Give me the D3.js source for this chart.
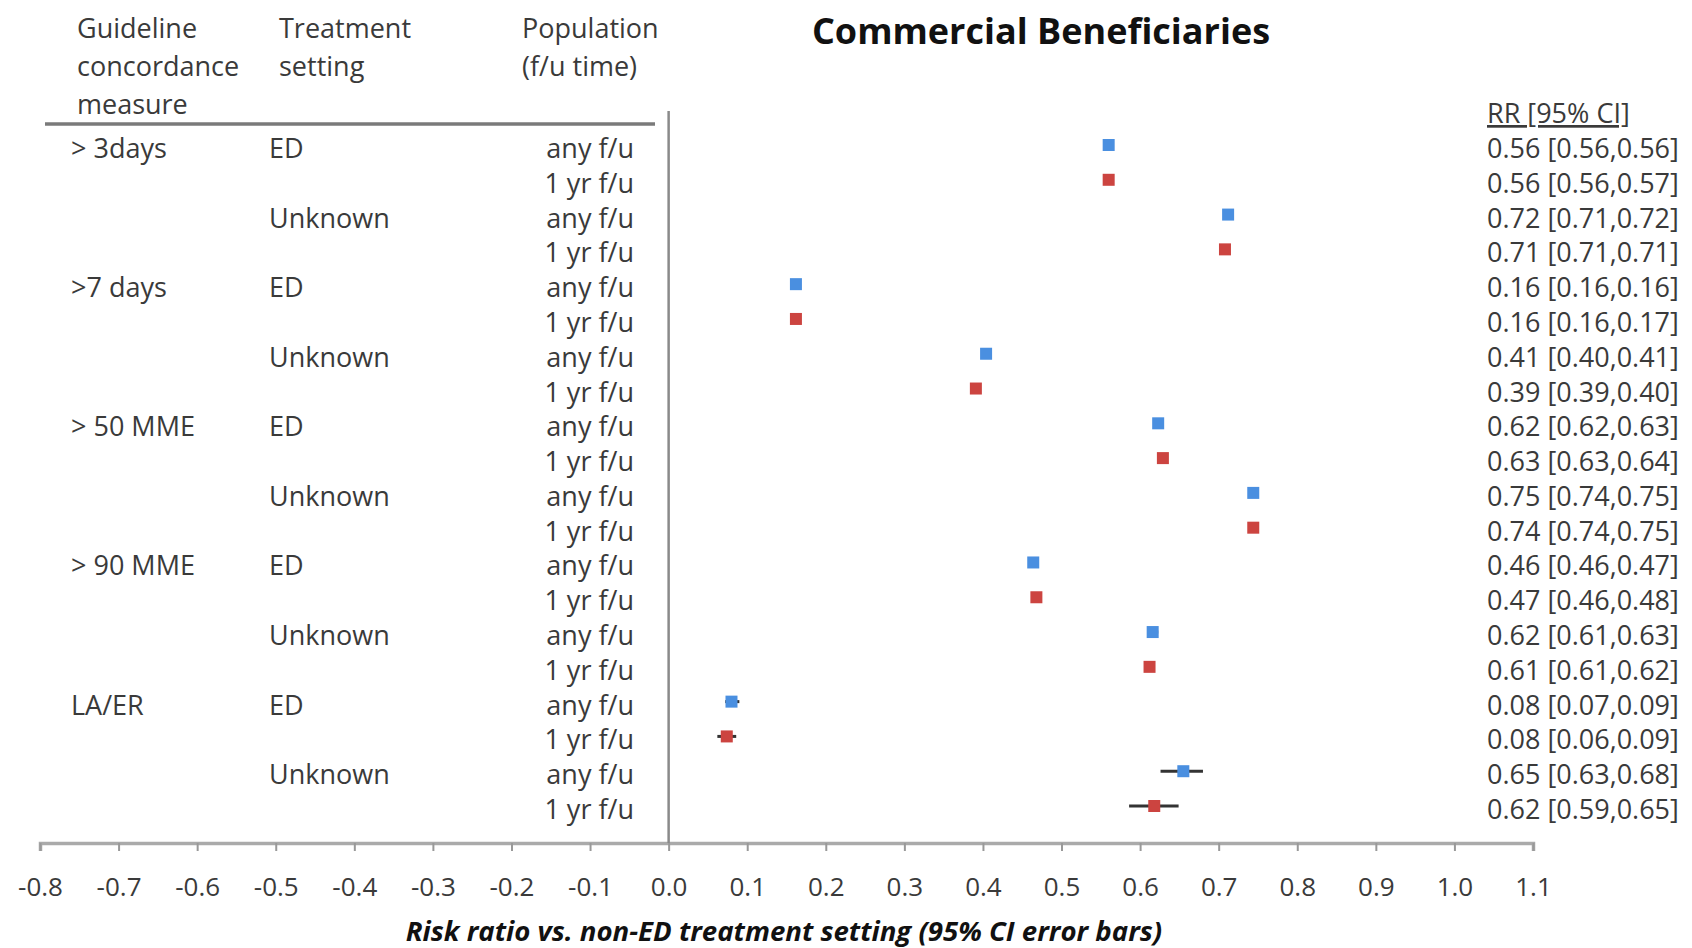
<!DOCTYPE html>
<html><head><meta charset="utf-8">
<script src="https://cdn.jsdelivr.net/npm/d3@7"></script>
<style>body{margin:0;background:#fff;} svg{display:block;} text{font-family:"Open Sans", Lato, sans-serif;}</style>
</head><body>
<svg id="c" width="1692" height="948"></svg>
<script>
const measures = ["> 3days", ">7 days", "> 50 MME", "> 90 MME", "LA/ER"];
const settings = ["ED", "Unknown"];
const populations = ["any f/u", "1 yr f/u"];
// plotted point estimates and CI bounds
const rr = [0.560,0.560,0.712,0.708,0.162,0.162,0.404,0.391,0.623,0.629,0.744,0.744,0.464,0.468,0.616,0.612,0.080,0.074,0.655,0.618];
const lo = [0.558,0.557,0.708,0.705,0.160,0.159,0.400,0.388,0.619,0.625,0.740,0.740,0.460,0.462,0.610,0.607,0.072,0.062,0.626,0.586];
const hi = [0.563,0.566,0.716,0.711,0.164,0.166,0.408,0.396,0.627,0.635,0.748,0.749,0.468,0.475,0.623,0.618,0.090,0.086,0.680,0.649];
// printed labels
const rrLabels = ["0.56 [0.56,0.56]","0.56 [0.56,0.57]","0.72 [0.71,0.72]","0.71 [0.71,0.71]","0.16 [0.16,0.16]",
  "0.16 [0.16,0.17]","0.41 [0.40,0.41]","0.39 [0.39,0.40]","0.62 [0.62,0.63]","0.63 [0.63,0.64]",
  "0.75 [0.74,0.75]","0.74 [0.74,0.75]","0.46 [0.46,0.47]","0.47 [0.46,0.48]","0.62 [0.61,0.63]",
  "0.61 [0.61,0.62]","0.08 [0.07,0.09]","0.08 [0.06,0.09]","0.65 [0.63,0.68]","0.62 [0.59,0.65]"];
const xTicks = [-0.8,-0.7,-0.6,-0.5,-0.4,-0.3,-0.2,-0.1,0.0,0.1,0.2,0.3,0.4,0.5,0.6,0.7,0.8,0.9,1.0,1.1];
const headers = [["Guideline","concordance","measure"],["Treatment","setting"],["Population","(f/u time)"]];
const colors = ["#4a8fe0","#cc4440"];

const svg = d3.select("#c");
const x = d3.scaleLinear().domain([-0.8,1.1]).range([40,1533]);
const rows = d3.range(rr.length);
const y = d3.scalePoint().domain(rows).range([145,806]);
const txt = "#3a3a3a";
const fs = 27;

// title
svg.append("text").attr("x",1041).attr("y",44).attr("text-anchor","middle")
  .attr("font-size",36).attr("font-weight","bold").attr("fill","#111").text("Commercial Beneficiaries");

// headers
const hx = [77, 279, 522];
headers.forEach((h,i)=>{
  h.forEach((t,j)=>{
    svg.append("text").attr("x",hx[i]).attr("y",38+j*38).attr("font-size",fs).attr("fill",txt).text(t);
  });
});
svg.append("line").attr("x1",45).attr("x2",655).attr("y1",124).attr("y2",124)
  .attr("stroke","#7a7a7a").attr("stroke-width",3.5);

// axis
const fmt = d => d3.format(".1f")(d).replace("\u2212","-");
const axis = d3.axisBottom(x).tickValues(xTicks).tickFormat(fmt).tickSize(8).tickPadding(27);
const ag = svg.append("g").attr("transform","translate(0,843)").call(axis);
ag.select(".domain").attr("stroke","#aaa").attr("stroke-width",3.5);
ag.selectAll(".tick line").attr("stroke","#999").attr("stroke-width",2);
ag.selectAll(".tick text").attr("font-size",26).attr("fill",txt).style("font-family","'Open Sans', sans-serif");

// zero line
svg.append("line").attr("x1",x(0)).attr("x2",x(0)).attr("y1",111).attr("y2",843)
  .attr("stroke","#8a8a8a").attr("stroke-width",2.5);

// axis title
svg.append("text").attr("x",784).attr("y",941).attr("text-anchor","middle").attr("font-size",27.6)
  .attr("font-weight","bold").attr("font-style","italic").attr("fill","#111")
  .text("Risk ratio vs. non-ED treatment setting (95% CI error bars)");

// row labels
rows.forEach(i=>{
  const ty = y(i)+13;
  if(i%4===0) svg.append("text").attr("x",71).attr("y",ty).attr("font-size",fs).attr("fill",txt).text(measures[i/4]);
  if(i%2===0) svg.append("text").attr("x",269).attr("y",ty).attr("font-size",fs).attr("fill",txt).text(settings[(i/2)%2]);
  svg.append("text").attr("x",634).attr("y",ty).attr("text-anchor","end").attr("font-size",fs).attr("fill",txt).text(populations[i%2]);
  svg.append("text").attr("x",1487).attr("y",ty).attr("font-size",fs).attr("fill",txt).text(rrLabels[i]);
});

// RR header
svg.append("text").attr("x",1487).attr("y",123).attr("font-size",fs).attr("fill",txt)
  .attr("text-decoration","underline").text("RR [95% CI]");

// error bars
svg.append("g").selectAll("line").data(rows).join("line")
  .attr("x1",i=>x(lo[i])).attr("x2",i=>x(hi[i])).attr("y1",i=>y(i)).attr("y2",i=>y(i))
  .attr("stroke","#333").attr("stroke-width",3);

// markers
const ms = 12;
svg.append("g").selectAll("rect").data(rows).join("rect")
  .attr("x",i=>x(rr[i])-ms/2).attr("y",i=>y(i)-ms/2).attr("width",ms).attr("height",ms)
  .attr("fill",i=>colors[i%2]);
</script>
</body></html>
